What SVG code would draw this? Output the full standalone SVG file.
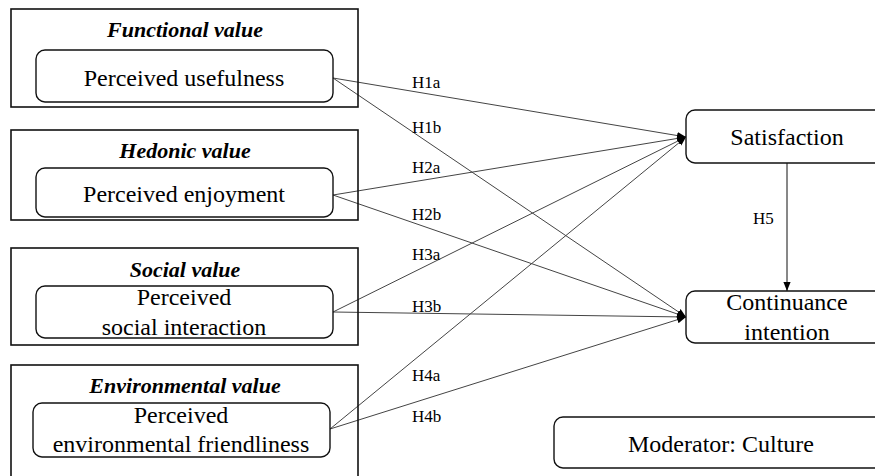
<svg xmlns="http://www.w3.org/2000/svg" width="875" height="476" viewBox="0 0 875 476">
<defs>
<marker id="arr" viewBox="0 0 10 10" refX="10" refY="5" markerWidth="9" markerHeight="9" markerUnits="userSpaceOnUse" orient="auto">
<path d="M0,1 L10,5 L0,9 z" fill="#000"/>
</marker>
</defs>
<rect width="875" height="476" fill="#fff"/>
<g id="connectors">
<g stroke="#444" stroke-width="1" fill="none" marker-end="url(#arr)">
<line x1="333" y1="78" x2="686" y2="137"/>
<line x1="333" y1="78" x2="686" y2="317"/>
<line x1="333" y1="195" x2="686" y2="137"/>
<line x1="333" y1="195" x2="686" y2="317"/>
<line x1="333" y1="312" x2="686" y2="137"/>
<line x1="333" y1="312" x2="686" y2="317"/>
<line x1="330" y1="429" x2="686" y2="137"/>
<line x1="330" y1="429" x2="686" y2="317"/>
<line x1="787" y1="163" x2="787" y2="291" stroke="#111"/>
</g>
<text x="412" y="88" font-family="Liberation Serif" font-size="17">H1a</text>
<text x="412" y="133" font-family="Liberation Serif" font-size="17">H1b</text>
<text x="412" y="173" font-family="Liberation Serif" font-size="17">H2a</text>
<text x="412" y="220" font-family="Liberation Serif" font-size="17">H2b</text>
<text x="412" y="260" font-family="Liberation Serif" font-size="17">H3a</text>
<text x="412" y="312" font-family="Liberation Serif" font-size="17">H3b</text>
<text x="412" y="381" font-family="Liberation Serif" font-size="17">H4a</text>
<text x="412" y="422" font-family="Liberation Serif" font-size="17">H4b</text>
<text x="753" y="224" font-family="Liberation Serif" font-size="17">H5</text>
</g>
<g id="functional">
<rect x="11" y="9" width="347" height="98" fill="none" stroke="#111" stroke-width="1.6"/>
<text x="185" y="37" font-family="Liberation Serif" font-size="22" font-weight="bold" font-style="italic" text-anchor="middle">Functional value</text>
<rect x="36" y="50" width="297" height="52" rx="9" fill="#fff" stroke="#111" stroke-width="1.4"/>
<text x="184" y="86" font-family="Liberation Serif" font-size="24" text-anchor="middle">Perceived usefulness</text>
</g>
<g id="hedonic">
<rect x="11" y="130" width="347" height="90" fill="none" stroke="#111" stroke-width="1.6"/>
<text x="185" y="158" font-family="Liberation Serif" font-size="22" font-weight="bold" font-style="italic" text-anchor="middle">Hedonic value</text>
<rect x="36" y="168" width="297" height="49" rx="9" fill="#fff" stroke="#111" stroke-width="1.4"/>
<text x="184" y="202" font-family="Liberation Serif" font-size="24" text-anchor="middle">Perceived enjoyment</text>
</g>
<g id="social">
<rect x="11" y="248" width="347" height="97" fill="none" stroke="#111" stroke-width="1.6"/>
<text x="185" y="277" font-family="Liberation Serif" font-size="22" font-weight="bold" font-style="italic" text-anchor="middle">Social value</text>
<rect x="36" y="286" width="297" height="52" rx="9" fill="#fff" stroke="#111" stroke-width="1.4"/>
<text x="184" y="305" font-family="Liberation Serif" font-size="24" text-anchor="middle">Perceived</text>
<text x="184" y="335" font-family="Liberation Serif" font-size="24" text-anchor="middle">social interaction</text>
</g>
<g id="environmental">
<rect x="11" y="365" width="347" height="130" fill="none" stroke="#111" stroke-width="1.6"/>
<text x="185" y="393" font-family="Liberation Serif" font-size="22" font-weight="bold" font-style="italic" text-anchor="middle">Environmental value</text>
<rect x="33" y="403" width="297" height="54" rx="9" fill="#fff" stroke="#111" stroke-width="1.4"/>
<text x="181" y="423" font-family="Liberation Serif" font-size="24" text-anchor="middle">Perceived</text>
<text x="181" y="452" font-family="Liberation Serif" font-size="24" text-anchor="middle">environmental friendliness</text>
</g>
<g id="satisfaction">
<rect x="686" y="110" width="210" height="53" rx="9" fill="#fff" stroke="#111" stroke-width="1.4"/>
<text x="787" y="145" font-family="Liberation Serif" font-size="24" text-anchor="middle">Satisfaction</text>
</g>
<g id="continuance">
<rect x="686" y="291" width="210" height="52" rx="9" fill="#fff" stroke="#111" stroke-width="1.4"/>
<text x="787" y="310" font-family="Liberation Serif" font-size="24" text-anchor="middle">Continuance</text>
<text x="787" y="340" font-family="Liberation Serif" font-size="24" text-anchor="middle">intention</text>
</g>
<g id="moderator">
<rect x="554" y="417" width="342" height="51" rx="9" fill="#fff" stroke="#111" stroke-width="1.4"/>
<text x="721" y="452" font-family="Liberation Serif" font-size="24" text-anchor="middle">Moderator: Culture</text>
</g>
</svg>
